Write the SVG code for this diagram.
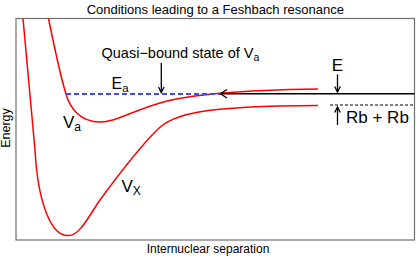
<svg xmlns="http://www.w3.org/2000/svg" width="420" height="259" viewBox="0 0 420 259">
<style>
text{font-family:"Liberation Sans",Arial,sans-serif;fill:#000}
.frame{fill:#fff;stroke:#6e6e6e;stroke-width:1.2}
.pot{fill:none;stroke:#ff0000;stroke-width:1.5}
.ar{fill:none;stroke:#000;stroke-width:1.3}
.big{font-size:17px}
.mid{font-size:14.5px}
</style>
<rect width="420" height="259" fill="#fff"/>
<text x="215.3" y="13.5" font-size="13" text-anchor="middle">Conditions leading to a Feshbach resonance</text>
<rect class="frame" x="16" y="18.5" width="398.5" height="221.5"/>
<text x="208" y="253" font-size="12" text-anchor="middle">Internuclear separation</text>
<text transform="translate(10,128) rotate(-90)" font-size="12.5" text-anchor="middle">Energy</text>
<g id="Vx">
<path class="pot" d="M23,18.5 C27,62 31,106 35,150 C38,205 52,237 69,235.5 C80,235.5 90,214 100,200 C115,179.5 140,147 157,130 C172,114 200,106 318,105.5"/>
<text class="big" x="121.5" y="192">V<tspan font-size="12" dy="3">X</tspan></text>
</g>
<g id="Va">
<path class="pot" d="M48.5,18.5 C55,50 60,75 66,94 C70,108 80,122 100,122 C115,122 130,112 160,103 C190,94 250,90 318,89"/>
<text class="big" x="63" y="128">V<tspan font-size="12" dy="3">a</tspan></text>
</g>
<g id="Ea">
<line x1="66" y1="94" x2="220" y2="94" stroke="#4646ff" stroke-width="2" stroke-dasharray="5,3"/>
<text x="111.5" y="89" font-size="16">E<tspan font-size="11.5" dy="3">a</tspan></text>
</g>
<g id="quasi">
<text class="mid" x="101.5" y="58">Quasi−bound state of V<tspan font-size="10.5" dy="3">a</tspan></text>
</g>
<g id="E">
<text class="big" x="337.5" y="70.5" text-anchor="middle">E</text>
</g>
<g id="threshold">
<line x1="330" y1="105" x2="414.5" y2="105" stroke="#000" stroke-width="1" stroke-dasharray="3,2"/>
<text class="big" x="346" y="122.5">Rb + Rb</text>
</g>
<g id="connectors">
<line x1="220" y1="93.7" x2="414.5" y2="93.7" stroke="#000" stroke-width="1.6"/>
<polyline class="ar" stroke-width="2" points="227,89.5 220.5,93.7 227,98"/>
<line class="ar" x1="161.3" y1="63" x2="161.3" y2="92.5"/>
<polyline class="ar" points="158.5,87 161.3,92.5 164.1,87"/>
<line class="ar" x1="337.5" y1="74.5" x2="337.5" y2="92"/>
<polyline class="ar" points="334.7,86.5 337.5,92 340.3,86.5"/>
<line class="ar" x1="337.5" y1="125" x2="337.5" y2="107"/>
<polyline class="ar" points="334.7,112.5 337.5,107 340.3,112.5"/>
</g>
</svg>
